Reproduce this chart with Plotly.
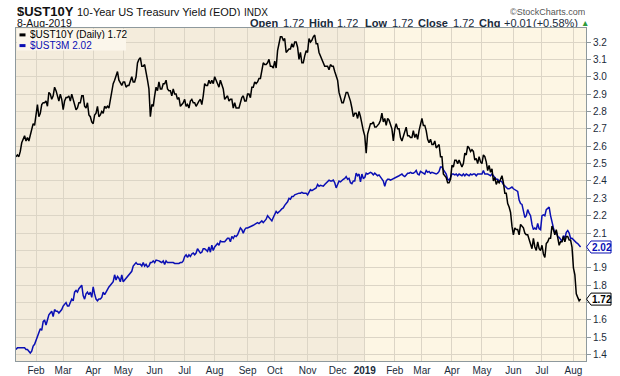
import sys
import pandas as pd
import plotly.graph_objects as go

# ---------------- data ----------------
start_date = "2018-01-11"
end_date = "2019-08-08"
holidays = ["2018-01-15", "2018-02-19", "2018-03-30", "2018-05-28", "2018-07-04",
            "2018-09-03", "2018-11-22", "2018-12-05", "2018-12-25", "2019-01-01",
            "2019-01-21", "2019-02-18", "2019-04-19", "2019-05-27", "2019-07-04"]

# 10-Year yield, one value per trading day (month by month)
ust10y = [
    2.54, 2.55, 2.54, 2.57, 2.62, 2.64, 2.66, 2.63, 2.65, 2.63, 2.66, 2.70, 2.73, 2.72,  # Jan-18
    2.78, 2.84, 2.77, 2.79, 2.84, 2.85, 2.85, 2.86, 2.83, 2.91, 2.90, 2.87, 2.89, 2.94, 2.92, 2.88, 2.86, 2.90, 2.87,  # Feb
    2.81, 2.86, 2.88, 2.88, 2.89, 2.86, 2.90, 2.87, 2.84, 2.81, 2.82, 2.85, 2.85, 2.89, 2.89, 2.83, 2.82, 2.85, 2.78, 2.77, 2.74,  # Mar
    2.73, 2.78, 2.79, 2.83, 2.77, 2.78, 2.80, 2.79, 2.83, 2.82, 2.83, 2.82, 2.87, 2.92, 2.96, 2.98, 3.00, 3.03, 2.98, 2.96, 2.95,  # Apr
    2.97, 2.97, 2.94, 2.95, 2.95, 2.97, 3.00, 2.97, 2.97, 3.00, 3.08, 3.10, 3.11, 3.06, 3.06, 3.07, 3.01, 2.98, 2.93, 2.77, 2.84, 2.83,  # May
    2.89, 2.94, 2.92, 2.97, 2.93, 2.93, 2.96, 2.96, 2.98, 2.93, 2.92, 2.92, 2.89, 2.93, 2.90, 2.90, 2.87, 2.88, 2.83, 2.84, 2.85,  # Jun
    2.87, 2.83, 2.84, 2.82, 2.86, 2.87, 2.85, 2.85, 2.83, 2.85, 2.86, 2.87, 2.84, 2.89, 2.96, 2.95, 2.95, 2.98, 2.96, 2.98, 2.96,  # Jul
    3.00, 2.98, 2.95, 2.94, 2.98, 2.96, 2.93, 2.87, 2.88, 2.89, 2.86, 2.87, 2.87, 2.82, 2.85, 2.82, 2.82, 2.82, 2.85, 2.88, 2.89, 2.86, 2.86,  # Aug
    2.90, 2.90, 2.88, 2.94, 2.94, 2.97, 2.96, 2.97, 2.99, 2.99, 3.05, 3.08, 3.07, 3.07, 3.08, 3.10, 3.06, 3.06, 3.05,  # Sep
    3.09, 3.05, 3.15, 3.19, 3.23, 3.23, 3.21, 3.22, 3.14, 3.15, 3.16, 3.16, 3.19, 3.17, 3.20, 3.20, 3.17, 3.10, 3.14, 3.08, 3.08, 3.12, 3.15,  # Oct
    3.14, 3.22, 3.20, 3.21, 3.23, 3.24, 3.19, 3.19, 3.14, 3.12, 3.11, 3.08, 3.06, 3.06, 3.06, 3.04, 3.07, 3.06, 3.06, 3.03, 3.01,  # Nov
    2.98, 2.91, 2.87, 2.85, 2.85, 2.88, 2.91, 2.91, 2.89, 2.86, 2.82, 2.77, 2.79, 2.79, 2.76, 2.80, 2.77, 2.72, 2.69,  # Dec
    2.66, 2.56, 2.67, 2.70, 2.73, 2.73, 2.74, 2.71, 2.71, 2.72, 2.73, 2.75, 2.79, 2.74, 2.76, 2.72, 2.76, 2.75, 2.72, 2.70, 2.63,  # Jan-19
    2.70, 2.73, 2.70, 2.70, 2.65, 2.63, 2.66, 2.68, 2.71, 2.66, 2.66, 2.65, 2.65, 2.69, 2.65, 2.67, 2.64, 2.69, 2.73,  # Feb
    2.76, 2.72, 2.72, 2.69, 2.64, 2.62, 2.64, 2.61, 2.61, 2.63, 2.59, 2.60, 2.61, 2.54, 2.54, 2.44, 2.43, 2.42, 2.39, 2.39, 2.41,  # Mar
    2.49, 2.48, 2.52, 2.52, 2.50, 2.52, 2.50, 2.48, 2.50, 2.56, 2.55, 2.60, 2.59, 2.57, 2.58, 2.57, 2.52, 2.53, 2.50, 2.54, 2.51,  # Apr
    2.50, 2.55, 2.54, 2.51, 2.46, 2.49, 2.45, 2.47, 2.40, 2.42, 2.38, 2.40, 2.39, 2.41, 2.43, 2.39, 2.33, 2.33, 2.27, 2.25, 2.22, 2.14,  # May
    2.09, 2.13, 2.12, 2.12, 2.09, 2.15, 2.14, 2.13, 2.10, 2.09, 2.09, 2.06, 2.03, 2.01, 2.07, 2.02, 2.00, 2.05, 2.01, 2.00,  # Jun
    2.03, 1.98, 1.96, 2.04, 2.05, 2.07, 2.07, 2.14, 2.12, 2.09, 2.12, 2.06, 2.03, 2.05, 2.05, 2.08, 2.05, 2.08, 2.08, 2.06, 2.06, 2.02,  # Jul
    1.90, 1.86, 1.75, 1.73, 1.71, 1.72,  # Aug
]

# 3-Month yield, one value per trading day (month by month)
ust3m = [
    1.43, 1.44, 1.44, 1.44, 1.44, 1.44, 1.44, 1.43, 1.43, 1.42, 1.41, 1.42, 1.45, 1.46,  # Jan-18
    1.48, 1.50, 1.52, 1.55, 1.54, 1.59, 1.60, 1.57, 1.60, 1.63, 1.64, 1.65, 1.62, 1.66, 1.65, 1.65, 1.64, 1.65, 1.66,  # Feb
    1.68, 1.69, 1.70, 1.68, 1.68, 1.70, 1.72, 1.71, 1.76, 1.77, 1.76, 1.78, 1.79, 1.80, 1.74, 1.72, 1.75, 1.76, 1.745, 1.76, 1.73,  # Mar
    1.79, 1.75, 1.72, 1.71, 1.72, 1.72, 1.73, 1.76, 1.745, 1.76, 1.78, 1.79, 1.80, 1.81, 1.82, 1.86, 1.83, 1.85, 1.84, 1.82, 1.86,  # Apr
    1.82, 1.83, 1.84, 1.85, 1.86, 1.87, 1.88, 1.91, 1.92, 1.93, 1.92, 1.92, 1.92, 1.91, 1.93, 1.91, 1.92, 1.905, 1.91, 1.93, 1.93, 1.94,  # May
    1.93, 1.945, 1.94, 1.94, 1.935, 1.93, 1.94, 1.92, 1.94, 1.93, 1.93, 1.93, 1.93, 1.93, 1.925, 1.925, 1.925, 1.925, 1.93, 1.93, 1.94,  # Jun
    1.965, 1.975, 1.96, 1.975, 1.965, 1.98, 1.985, 1.975, 1.985, 2.01, 2.00, 1.985, 1.99, 2.01, 2.01, 2.00, 1.995, 2.02, 1.99, 2.03, 2.00,  # Jul
    2.02, 2.03, 2.04, 2.03, 2.055, 2.05, 2.05, 2.05, 2.06, 2.07, 2.07, 2.05, 2.08, 2.07, 2.085, 2.08, 2.09, 2.11, 2.13, 2.12, 2.10, 2.12, 2.13,  # Aug
    2.13, 2.135, 2.14, 2.14, 2.145, 2.15, 2.155, 2.16, 2.155, 2.165, 2.17, 2.16, 2.17, 2.18, 2.20, 2.19, 2.175, 2.17, 2.19,  # Sep
    2.21, 2.225, 2.215, 2.22, 2.23, 2.24, 2.245, 2.26, 2.27, 2.28, 2.30, 2.295, 2.31, 2.31, 2.32, 2.325, 2.33, 2.33, 2.33, 2.335, 2.33, 2.33, 2.33,  # Oct
    2.32, 2.34, 2.35, 2.345, 2.35, 2.355, 2.36, 2.38, 2.37, 2.375, 2.37, 2.37, 2.38, 2.39, 2.40, 2.405, 2.40, 2.40, 2.405, 2.39, 2.36,  # Nov
    2.38, 2.40, 2.395, 2.405, 2.41, 2.415, 2.425, 2.41, 2.415, 2.39, 2.385, 2.40, 2.40, 2.445, 2.43, 2.44, 2.395, 2.44, 2.415,  # Dec
    2.42, 2.445, 2.44, 2.445, 2.45, 2.445, 2.435, 2.445, 2.435, 2.43, 2.435, 2.425, 2.415, 2.40, 2.37, 2.40, 2.41, 2.41, 2.405, 2.41, 2.41,  # Jan-19
    2.415, 2.42, 2.43, 2.43, 2.435, 2.44, 2.43, 2.425, 2.435, 2.445, 2.445, 2.45, 2.445, 2.445, 2.45, 2.46, 2.44, 2.435, 2.455,  # Feb
    2.45, 2.45, 2.44, 2.46, 2.45, 2.455, 2.445, 2.45, 2.445, 2.44, 2.44, 2.445, 2.455, 2.48, 2.48, 2.465, 2.45, 2.44, 2.41, 2.405, 2.42,  # Mar
    2.44, 2.44, 2.435, 2.44, 2.43, 2.44, 2.435, 2.43, 2.44, 2.43, 2.44, 2.435, 2.43, 2.44, 2.435, 2.44, 2.44, 2.43, 2.44, 2.44, 2.44,  # Apr
    2.44, 2.46, 2.44, 2.44, 2.44, 2.435, 2.43, 2.44, 2.43, 2.42, 2.41, 2.41, 2.40, 2.40, 2.395, 2.38, 2.37, 2.365, 2.355, 2.355, 2.36, 2.365,  # May
    2.355, 2.35, 2.345, 2.34, 2.29, 2.27, 2.265, 2.235, 2.19, 2.20, 2.235, 2.215, 2.20, 2.15, 2.12, 2.13, 2.12, 2.155, 2.125, 2.12,  # Jun
    2.20, 2.205, 2.20, 2.235, 2.245, 2.25, 2.20, 2.155, 2.13, 2.10, 2.105, 2.08, 2.075, 2.065, 2.05, 2.085, 2.07, 2.105, 2.115, 2.10, 2.07, 2.07,  # Jul
    2.06, 2.05, 2.045, 2.04, 2.03, 2.02,  # Aug
]

tick_dates = ["2018-02-01", "2018-03-01", "2018-04-02", "2018-05-01", "2018-06-01", "2018-07-02",
              "2018-08-01", "2018-09-04", "2018-10-01", "2018-11-01", "2018-12-03", "2019-01-02",
              "2019-02-01", "2019-03-01", "2019-04-01", "2019-05-01", "2019-06-03", "2019-07-01",
              "2019-08-01"]
tick_labels = ["Feb", "Mar", "Apr", "May", "Jun", "Jul", "Aug", "Sep", "Oct", "Nov", "Dec",
               "<b>2019</b>", "Feb", "Mar", "Apr", "May", "Jun", "Jul", "Aug"]

y_ticks = [1.4, 1.5, 1.6, 1.7, 1.8, 1.9, 2.0, 2.1, 2.2, 2.3, 2.4, 2.5, 2.6, 2.7, 2.8, 2.9, 3.0, 3.1, 3.2]
y_hidden = [1.7, 2.0]  # covered by the last-value tags

last_10y = 1.72
last_3m = 2.02
year_start = "2019-01-02"

# quote line (label, value) pairs
quote_labels = ["Open", "High", "Low", "Close", "Chg"]
quote_values = ["1.72", "1.72", "1.72", "1.72", "+0.01"]
quote_pct = "(+0.58%)"

# ---------------- build ----------------
dates = pd.bdate_range(start_date, end_date, freq="C", holidays=holidays)
n = min(len(dates), len(ust10y), len(ust3m))
if not (len(dates) == len(ust10y) == len(ust3m)):
    print("length mismatch", len(dates), len(ust10y), len(ust3m), file=sys.stderr)

W, H = 620, 376
ML, MR, MT, MB = 16, 34, 28, 15
PH = H - MT - MB
PW = W - ML - MR


def px_y(p):  # pixel row -> paper y
    return (H - MB - p) / PH


def px_x(p):  # pixel column -> paper x
    return (p - ML) / PW


BLACK = "#000000"
BLUE = "#0A0FB4"
FONT = "Liberation Sans, Arial, sans-serif"
HDR = "#1B2B3A"

fig = go.Figure()
fig.add_trace(go.Scatter(x=dates[:n], y=ust3m[:n], mode="lines",
                         line=dict(color=BLUE, width=1.5), showlegend=False))
fig.add_trace(go.Scatter(x=dates[:n], y=ust10y[:n], mode="lines",
                         line=dict(color=BLACK, width=1.5), showlegend=False))

shapes = [
    dict(type="rect", xref="x", yref="paper", x0="2017-12-01", x1=year_start, y0=0, y1=1,
         fillcolor="#F4ECDC", line=dict(width=0), layer="below"),
]
annotations = []


def label(x, y, text, size, color, anchor="left", height=None):
    d = dict(xref="paper", yref="paper", x=px_x(x), y=px_y(y), xanchor=anchor,
             yanchor="middle", text=text, showarrow=False, borderpad=0,
             font=dict(family=FONT, size=size, color=color))
    if height:
        d["height"] = height
    annotations.append(d)


# last-value tags on the right axis
for val, col in [(last_3m, BLUE), (last_10y, BLACK)]:
    shapes.append(dict(type="path", xref="paper", yref="y", xsizemode="pixel", ysizemode="pixel",
                       xanchor=1, yanchor=val,
                       path="M 0.5 0 L 5 6 L 25 6 L 25 -6 L 5 -6 Z",
                       fillcolor="white", line=dict(color=col, width=1)))
    annotations.append(dict(xref="paper", yref="y", x=1, y=val, xanchor="left", yanchor="middle",
                            xshift=5, text="<b>%.2f</b>" % val, showarrow=False, height=10,
                            font=dict(family=FONT, size=10, color=col), borderpad=0))

# legend (drawn inside the plot, top-left)
shapes.append(dict(type="rect", xref="paper", yref="paper", x0=px_x(17), x1=px_x(126),
                   y0=px_y(50.5), y1=px_y(29), fillcolor="#FBF6EB", line=dict(width=0)))
for row_y, txt, col in [(34.9, "$UST10Y (Daily) %.2f" % last_10y, BLACK),
                        (45.6, "$UST3M %.2f" % last_3m, BLUE)]:
    shapes.append(dict(type="line", xref="paper", yref="paper", x0=px_x(19.5), x1=px_x(25.5),
                       y0=px_y(row_y), y1=px_y(row_y), line=dict(color=col, width=3)))
    label(28.5, row_y, txt, 10, col, height=9)

# header, row 1
label(15.5, 10.8, "<b>$UST10Y</b>", 13, "#111111", height=10)
label(75.5, 12.0, "10-Year US Treasury Yield (EOD)", 11, "#111111", height=9)
label(243, 12.4, "INDX", 10, "#111111", height=8)
label(586.5, 11.6, "©StockCharts.com", 9, "#555555", anchor="right", height=8)

# header, row 2
label(15.5, 23.5, "8-Aug-2019", 10.5, "#111111", height=8)
label_x = [249.3, 308.3, 363.7, 417, 478]
value_x = [281.5, 336, 391, 452, 503]
for lx, vx, lab, val in zip(label_x, value_x, quote_labels, quote_values):
    label(lx, 23.5, "<b>%s</b>" % lab, 11, HDR, height=8)
    label(vx, 23.5, val, 11, HDR, height=8)
label(532.3, 23.5, quote_pct, 11, HDR, height=8)
label(589.5, 23.1, "▲", 8.5, "#2E9B3A", anchor="right", height=8)

axis_line = "#8E999D"
grid = "#DCD5C6"
fig.update_layout(
    width=W, height=H,
    margin=dict(l=ML, r=MR, t=MT, b=MB, pad=0, autoexpand=False),
    paper_bgcolor="white", plot_bgcolor="#FDF6E4",
    font=dict(family=FONT, size=10, color=HDR),
    shapes=shapes, annotations=annotations,
    showlegend=False,
    xaxis=dict(type="date", range=["2018-01-11", "2019-08-13 19:00"],
               rangebreaks=[dict(bounds=["sat", "mon"]), dict(values=holidays)],
               tickmode="array", tickvals=tick_dates, ticktext=tick_labels,
               showgrid=True, gridcolor=grid, gridwidth=1,
               showline=True, linecolor=axis_line, linewidth=1, mirror=True,
               ticks="", tickfont=dict(family=FONT, size=10, color=HDR),
               zeroline=False, fixedrange=True, automargin=False),
    yaxis=dict(side="right", range=[1.3637, 3.2806], tickmode="array", tickvals=y_ticks,
               ticktext=["" if v in y_hidden else "%.1f" % v for v in y_ticks],
               showgrid=True, gridcolor=grid, gridwidth=1,
               showline=True, linecolor=axis_line, linewidth=1, mirror=True,
               ticks="outside", ticklen=4, tickcolor=axis_line,
               tickfont=dict(family=FONT, size=10, color=HDR),
               zeroline=False, fixedrange=True, automargin=False),
)

fig.write_html("out.html", config={"displayModeBar": False},
               post_script="document.body.style.margin='0';document.body.style.overflow='hidden';")
